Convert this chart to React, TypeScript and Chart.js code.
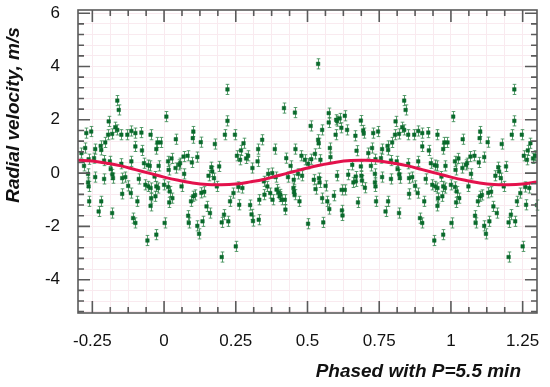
import React, { useEffect, useRef } from 'react';
import { Chart, registerables } from 'chart.js';

Chart.register(...registerables);

// Phase-folded radial velocities (phase in [0,1))
const PHASE = [
  0.000, 0.002, 0.008, 0.014, 0.016, 0.014, 0.018, 0.020, 0.026, 0.029,
  0.040, 0.041, 0.052, 0.056, 0.061, 0.068, 0.070, 0.082, 0.084, 0.086,
  0.094, 0.097, 0.102, 0.100, 0.102, 0.108, 0.116, 0.116, 0.122, 0.128,
  0.130, 0.134, 0.140, 0.148, 0.155, 0.160, 0.165, 0.168, 0.174, 0.177,
  0.184, 0.192, 0.201, 0.201, 0.209, 0.212, 0.221, 0.221, 0.224, 0.230,
  0.242, 0.247, 0.250, 0.254, 0.259, 0.262, 0.265, 0.268, 0.273, 0.277,
  0.286, 0.293, 0.300, 0.305, 0.308, 0.310, 0.326, 0.328, 0.330, 0.332,
  0.342, 0.348, 0.350, 0.360, 0.363, 0.370, 0.377, 0.378, 0.386, 0.389,
  0.392, 0.398, 0.403, 0.405, 0.410, 0.418, 0.421, 0.423, 0.426, 0.432,
  0.441, 0.451, 0.452, 0.453, 0.455, 0.456, 0.458, 0.467, 0.472, 0.479,
  0.481, 0.491, 0.502, 0.502, 0.511, 0.513, 0.522, 0.526, 0.528, 0.537,
  0.537, 0.539, 0.540, 0.542, 0.545, 0.551, 0.551, 0.555, 0.563, 0.569,
  0.574, 0.574, 0.576, 0.578, 0.580, 0.592, 0.598, 0.600, 0.603, 0.603,
  0.612, 0.618, 0.619, 0.620, 0.622, 0.630, 0.630, 0.638, 0.642, 0.656,
  0.660, 0.667, 0.668, 0.668, 0.671, 0.676, 0.686, 0.686, 0.688, 0.690,
  0.694, 0.696, 0.700, 0.712, 0.721, 0.725, 0.729, 0.735, 0.735, 0.737,
  0.737, 0.739, 0.746, 0.756, 0.760, 0.760, 0.772, 0.779, 0.781, 0.781,
  0.791, 0.791, 0.795, 0.805, 0.807, 0.811, 0.814, 0.819, 0.819, 0.820,
  0.822, 0.830, 0.837, 0.837, 0.842, 0.851, 0.851, 0.854, 0.854, 0.865,
  0.872, 0.875, 0.884, 0.886, 0.886, 0.892, 0.900, 0.900, 0.900, 0.907,
  0.912, 0.921, 0.923, 0.930, 0.935, 0.942, 0.943, 0.945, 0.950, 0.953,
  0.953, 0.955, 0.953, 0.967, 0.970, 0.973, 0.973, 0.973, 0.977, 0.979,
  0.981, 0.988,
];
const RV = [
  -0.44, -1.87, 2.12, 0.44, 0.12, -0.52, -1.10, -0.69, 0.55, -0.94,
  0.19, 1.27, 0.31, 0.37, -0.50, 0.62, -0.03, 0.65, -1.60, -1.87,
  -1.06, 0.40, 1.56, 1.31, -0.87, -0.82, 0.60, -1.98, -2.28, 1.16,
  -0.74, -1.81, -0.70, -1.25, -0.10, -1.50, 0.22, 0.06, -0.19, 1.09,
  -0.50, 0.25, -1.85, -3.15, -1.56, 1.44, 3.14, 1.96, -1.81, -1.06,
  -0.75, 1.44, -2.75, 0.65, -0.52, -1.19, 0.50, 0.85, -0.56, 1.12,
  0.55, 0.65, -1.20, -1.55, 0.19, -1.80, 0.44, 0.90, -1.75, -1.00,
  1.25, -0.31, -0.81, -0.50, -0.03, -0.75, 0.00, -1.00, 0.90, -0.15,
  -0.62, -0.72, -0.88, -0.80, -1.00, 2.44, -1.00, -1.37, 0.56, -0.15,
  0.27, -0.56, -0.25, -0.70, -0.81, 2.27, 0.90, -0.03, -1.06, 0.65,
  -0.10, 0.50, 0.35, -1.90, 1.77, 0.52, -0.25, 0.72, -0.60, 4.10,
  1.25, 1.12, -0.19, -0.35, 0.50, 1.62, -0.94, -1.85, -0.48, -1.06,
  2.25, 1.90, -1.35, 0.94, 0.60, -0.85, 1.44, 2.00, 1.95, -0.10,
  2.05, 1.70, -0.63, -1.40, -1.59, 2.15, -0.63, 1.62, -0.06, 0.31,
  -0.35, 1.40, -0.13, -0.31, 0.84, -1.10, 1.97, 0.25, -0.10, -0.28,
  1.60, 1.50, -0.55, 0.75, 0.27, 0.94, 1.50, -0.03, -0.35, -0.50,
  0.52, -1.06, 1.56, 0.56, 0.90, -0.15, -1.44, 1.02, 0.87, -1.06,
  0.47, -0.22, 1.15, 1.44, 1.94, 0.44, 0.15, 1.47, -1.50, -0.05,
  -0.19, 1.72, 2.72, 1.62, 2.37, 1.44, 0.35, -0.19, -0.78, -0.15,
  1.44, -0.48, -0.75, 1.58, 0.44, -1.69, 1.50, 1.00, -1.87, -1.06,
  -0.22, 1.52, 0.85, 0.37, -0.44, -2.53, 0.30, -0.50, 0.27, 1.44,
  -0.56, -0.94, -1.23, -0.13, -0.87, 0.90, -0.50, -2.31, 1.15, -0.56,
  0.27, 1.15,
];
const RV_ERROR = 0.19;

// Fitted model curve
const MODEL_PHASE = [
  -0.30, -0.25, -0.20, -0.15, -0.10, -0.05, 0.00, 0.05, 0.10, 0.15, 0.20,
  0.25, 0.30, 0.35, 0.40, 0.45, 0.50, 0.55, 0.60, 0.65, 0.70, 0.75,
  0.80, 0.85, 0.90, 0.95, 1.00, 1.05, 1.10, 1.15, 1.20, 1.25, 1.30,
];
const MODEL_RV = [
  0.48, 0.45, 0.37, 0.27, 0.13, -0.01, -0.15, -0.27, -0.37, -0.43, -0.44,
  -0.41, -0.33, -0.23, -0.09, 0.05, 0.19, 0.31, 0.41, 0.47, 0.48, 0.45,
  0.37, 0.27, 0.13, -0.01, -0.15, -0.27, -0.37, -0.43, -0.44, -0.41, -0.33,
];

const X_MAJOR_TICKS = [-0.25, 0, 0.25, 0.5, 0.75, 1, 1.25];
const Y_MAJOR_TICKS = [-4, -2, 0, 2, 4, 6];
const X_MINOR_STEP = 0.0625;
const Y_MINOR_STEP = 0.4;
const X_MIN = -0.3;
const X_MAX = 1.3;
const Y_MIN = -5.25;
const Y_MAX = 6.12;
const X_TITLE = 'Phased with P=5.5 min';
const Y_TITLE = 'Radial velocity, m/s';

const FONT = '"Liberation Sans", Arial, Helvetica, sans-serif';
const POINT_COLOR = '#0a6a2c';
const ERR_COLOR = 'rgba(60,140,85,0.85)';
const MODEL_COLOR = '#e3124c';
const GRID_COLOR = '#f9eaef';
const FRAME_COLOR = '#5a5a5a';

function tickRange(first: number, last: number, step: number): number[] {
  const out: number[] = [];
  for (let k = 0; first + k * step <= last + 1e-9; k++) {
    out.push(+(first + k * step).toFixed(6));
  }
  return out;
}

const X_TICKS = tickRange(X_MAJOR_TICKS[0], X_MAJOR_TICKS[X_MAJOR_TICKS.length - 1], X_MINOR_STEP);
const Y_TICKS = tickRange(-5.2, Y_MAJOR_TICKS[Y_MAJOR_TICKS.length - 1], Y_MINOR_STEP);

const isMajor = (list: number[], v: number) => list.some((m) => Math.abs(m - v) < 1e-6);

function buildPoints() {
  const pts: { x: number; y: number }[] = [];
  PHASE.forEach((p, i) => {
    const v = RV[i];
    pts.push({ x: p, y: v });
    if (p - 1 >= X_MIN) pts.push({ x: p - 1, y: v });
    if (p + 1 <= X_MAX) pts.push({ x: p + 1, y: v });
  });
  return pts;
}

function zeroPadding(scale: any) {
  scale.paddingLeft = 0;
  scale.paddingRight = 0;
  scale.paddingTop = 0;
  scale.paddingBottom = 0;
}

export default function App() {
  const canvasRef = useRef<HTMLCanvasElement | null>(null);

  useEffect(() => {
    const canvas = canvasRef.current;
    if (!canvas) return;
    const points = buildPoints();
    const model = MODEL_PHASE.map((p, i) => ({ x: p, y: MODEL_RV[i] }));

    const decor = {
      id: 'decor',
      beforeDatasetsDraw(chart: any) {
        const { ctx, scales } = chart;
        const xs = scales.x;
        const ys = scales.y;
        ctx.save();
        ctx.strokeStyle = ERR_COLOR;
        ctx.lineWidth = 1;
        points.forEach((pt) => {
          const px = Math.round(xs.getPixelForValue(pt.x)) + 0.5;
          const y1 = ys.getPixelForValue(pt.y + RV_ERROR);
          const y2 = ys.getPixelForValue(pt.y - RV_ERROR);
          ctx.beginPath();
          ctx.moveTo(px, y1);
          ctx.lineTo(px, y2);
          ctx.moveTo(px - 1.8, y1);
          ctx.lineTo(px + 1.8, y1);
          ctx.moveTo(px - 1.8, y2);
          ctx.lineTo(px + 1.8, y2);
          ctx.stroke();
        });
        ctx.restore();
      },
      afterDraw(chart: any) {
        const { ctx, chartArea, scales } = chart;
        const xs = scales.x;
        const ys = scales.y;
        const { left, right, top, bottom } = chartArea;
        ctx.save();
        ctx.strokeStyle = FRAME_COLOR;
        ctx.lineWidth = 1.6;
        ctx.strokeRect(left, top, right - left, bottom - top);
        ctx.beginPath();
        X_TICKS.forEach((v) => {
          const px = xs.getPixelForValue(v);
          const len = isMajor(X_MAJOR_TICKS, v) ? 12 : 6;
          ctx.moveTo(px, bottom);
          ctx.lineTo(px, bottom - len);
          ctx.moveTo(px, top);
          ctx.lineTo(px, top + len);
        });
        Y_TICKS.forEach((v) => {
          const py = ys.getPixelForValue(v);
          const len = isMajor(Y_MAJOR_TICKS, v) ? 12 : 6;
          ctx.moveTo(left, py);
          ctx.lineTo(left + len, py);
          ctx.moveTo(right, py);
          ctx.lineTo(right - len, py);
        });
        ctx.stroke();

        ctx.fillStyle = '#111';
        ctx.font = `italic bold 19px ${FONT}`;
        ctx.textAlign = 'right';
        ctx.textBaseline = 'alphabetic';
        ctx.fillText(X_TITLE, 521, 377);

        ctx.translate(19, 115);
        ctx.rotate(-Math.PI / 2);
        ctx.textAlign = 'center';
        ctx.fillText(Y_TITLE, 0, 0);
        ctx.restore();
      },
    };

    const chart = new Chart(canvas, {
      type: 'scatter',
      data: {
        datasets: [
          {
            type: 'line',
            data: model,
            borderColor: MODEL_COLOR,
            borderWidth: 3,
            pointRadius: 0,
            tension: 0.4,
            fill: false,
          } as any,
          {
            data: points,
            backgroundColor: POINT_COLOR,
            borderColor: POINT_COLOR,
            borderWidth: 0.5,
            pointStyle: 'rect',
            pointRadius: 2.5,
            pointHoverRadius: 2.5,
          },
        ],
      },
      options: {
        animation: false,
        responsive: true,
        maintainAspectRatio: false,
        layout: { padding: { left: 0, right: 13, top: 10, bottom: 0 } },
        plugins: { legend: { display: false }, tooltip: { enabled: false } },
        scales: {
          x: {
            type: 'linear',
            min: X_MIN,
            max: X_MAX,
            afterBuildTicks: (scale: any) => {
              scale.ticks = X_TICKS.map((v) => ({ value: v }));
            },
            afterFit: (scale: any) => {
              scale.height = 74;
              zeroPadding(scale);
            },
            grid: { color: GRID_COLOR, lineWidth: 1, drawTicks: false },
            border: { display: false },
            ticks: {
              autoSkip: false,
              maxRotation: 0,
              minRotation: 0,
              padding: 18,
              color: '#111',
              font: { family: FONT, size: 17 },
              callback: (v: any) => (isMajor(X_MAJOR_TICKS, Number(v)) ? String(Number(v)) : ''),
            },
          },
          y: {
            type: 'linear',
            min: Y_MIN,
            max: Y_MAX,
            afterBuildTicks: (scale: any) => {
              scale.ticks = Y_TICKS.map((v) => ({ value: v }));
            },
            afterFit: (scale: any) => {
              scale.width = 78;
              zeroPadding(scale);
            },
            grid: { color: GRID_COLOR, lineWidth: 1, drawTicks: false },
            border: { display: false },
            ticks: {
              autoSkip: false,
              padding: 18,
              color: '#111',
              font: { family: FONT, size: 17 },
              callback: (v: any) => (isMajor(Y_MAJOR_TICKS, Number(v)) ? String(Math.round(Number(v))) : ''),
            },
          },
        },
      },
      plugins: [decor],
    });

    return () => chart.destroy();
  }, []);

  return (
    <div style={{ position: 'absolute', left: 0, top: 0, width: 550, height: 387, background: '#fff' }}>
      <canvas ref={canvasRef} />
    </div>
  );
}
